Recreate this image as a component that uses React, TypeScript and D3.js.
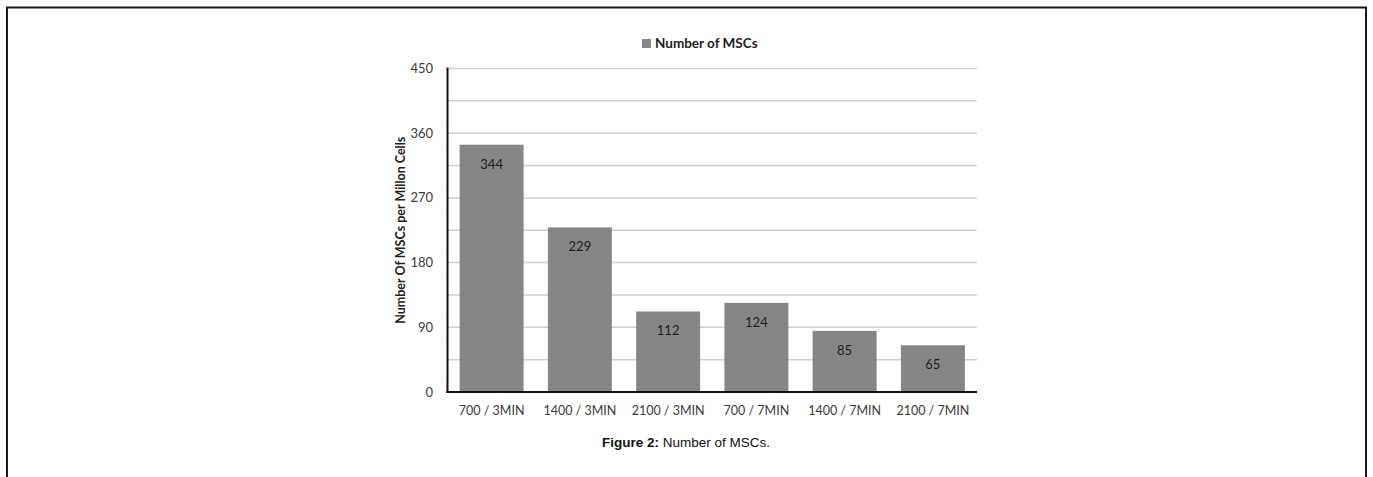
import React from "react";
import * as d3 from "d3";

const categories = ["700 / 3MIN", "1400 / 3MIN", "2100 / 3MIN", "700 / 7MIN", "1400 / 7MIN", "2100 / 7MIN"];
const values = [344, 229, 112, 124, 85, 65];
const yTicks = [0, 90, 180, 270, 360, 450];
const gridValues = [45, 90, 135, 180, 225, 270, 315, 360, 405, 450];
const seriesName = "Number of MSCs";
const yTitle = "Number Of MSCs per Millon Cells";
const caption = "Figure 2:";
const captionRest = " Number of MSCs.";

const W = 1373;
const H = 477;
const plot = { left: 447.5, right: 977, top: 68.5, bottom: 392 };
const BAR = "#868686";
const FONT = "Lato, 'Open Sans', sans-serif";

export default function App() {
  const x = d3
    .scaleBand<string>()
    .domain(categories)
    .range([plot.left, plot.right])
    .paddingInner(0.275)
    .paddingOuter(0.1375);
  const y = d3.scaleLinear().domain([0, 450]).range([plot.bottom, plot.top]);

  return (
    <svg
      width={W}
      height={H}
      style={{ position: "absolute", left: 0, top: 0, background: "#fff" }}
    >
      <rect x={0} y={0} width={W} height={H} fill="#fff" />
      {/* page frame */}
      <rect x={7} y={7.5} width={1359} height={H + 20} fill="none" stroke="#1a1a1a" strokeWidth={2} />

      {/* legend */}
      <rect x={642} y={39} width={9} height={9} fill={BAR} />
      <text x={655} y={48} fontFamily={FONT} fontSize={13.5} fontWeight="bold" fill="#222">
        {seriesName}
      </text>

      {/* gridlines */}
      {gridValues.map((v) => (
        <line
          key={v}
          x1={plot.left}
          x2={plot.right}
          y1={y(v)}
          y2={y(v)}
          stroke="#cfcfcf"
          strokeWidth={1.5}
        />
      ))}

      {/* bars */}
      {categories.map((c, i) => (
        <rect
          key={c}
          x={x(c)}
          y={y(values[i])}
          width={x.bandwidth()}
          height={y(0) - y(values[i])}
          fill={BAR}
        />
      ))}

      {/* bar value labels */}
      {categories.map((c, i) => (
        <text
          key={c + "-v"}
          x={(x(c) as number) + x.bandwidth() / 2}
          y={y(values[i]) + 24}
          textAnchor="middle"
          fontFamily={FONT}
          fontSize={13}
          fill="#1e1e1e"
        >
          {values[i]}
        </text>
      ))}

      {/* axes */}
      <line x1={plot.left} x2={plot.left} y1={plot.top - 1} y2={plot.bottom + 1} stroke="#111" strokeWidth={2} />
      <line x1={plot.left - 1} x2={plot.right} y1={plot.bottom} y2={plot.bottom} stroke="#111" strokeWidth={2} />

      {/* y tick labels */}
      {yTicks.map((t) => (
        <text
          key={t}
          x={433}
          y={y(t) + 4.5}
          textAnchor="end"
          fontFamily={FONT}
          fontSize={13}
          fill="#3a3a3a"
        >
          {t}
        </text>
      ))}

      {/* x tick labels */}
      {categories.map((c) => (
        <text
          key={c + "-x"}
          x={(x(c) as number) + x.bandwidth() / 2}
          y={415}
          textAnchor="middle"
          fontFamily={FONT}
          fontSize={12.5}
          fill="#3a3a3a"
        >
          {c}
        </text>
      ))}

      {/* y axis title */}
      <text
        transform={`translate(405, ${(plot.top + plot.bottom) / 2}) rotate(-90)`}
        textAnchor="middle"
        fontFamily={FONT}
        fontSize={12.5}
        fontWeight="bold"
        fill="#222"
      >
        {yTitle}
      </text>

      {/* caption */}
      <text
        x={686}
        y={447}
        textAnchor="middle"
        fontFamily="'Liberation Sans', Arial, sans-serif"
        fontSize={13.5}
        fill="#111"
      >
        <tspan fontWeight="bold">{caption}</tspan>
        {captionRest}
      </text>
    </svg>
  );
}
